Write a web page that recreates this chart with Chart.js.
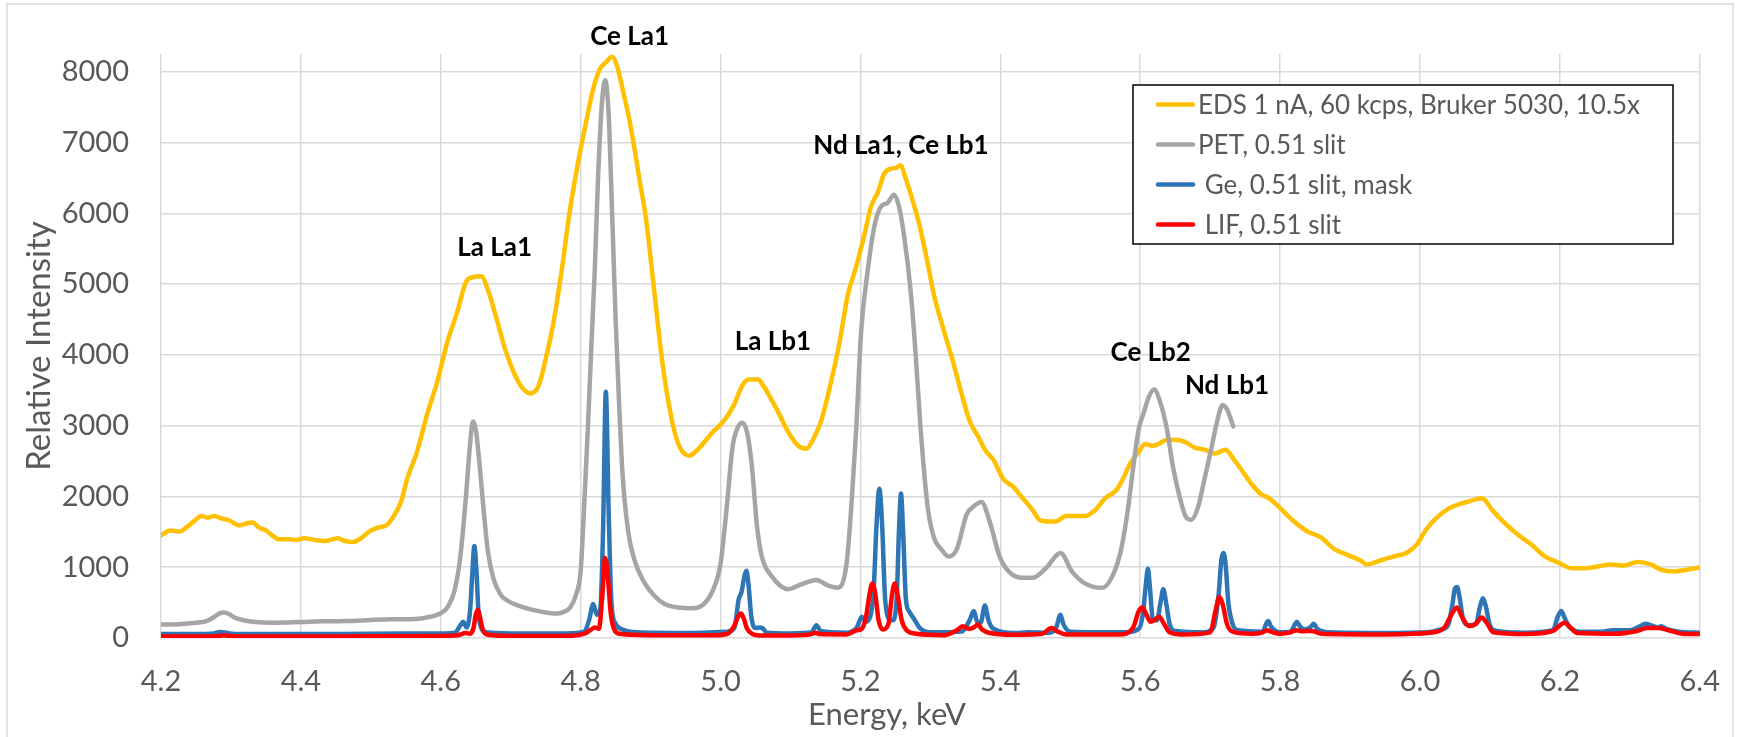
<!DOCTYPE html>
<html>
<head>
<meta charset="utf-8">
<title>EDS / WDS spectra</title>
<script src="https://cdn.jsdelivr.net/npm/chart.js@4.4.1/dist/chart.umd.min.js"></script>
<style>
  html, body { margin: 0; padding: 0; background: #fff; }
  canvas { display: block; }
</style>
</head>
<body>
<canvas id="spectrum_chartCanvas" width="1746" height="737"></canvas>
<script>
/* Series names, as in the legend */
var seriesLabels = ['EDS 1 nA, 60 kcps, Bruker 5030, 10.5x', 'PET, 0.51 slit', ' Ge, 0.51 slit, mask', ' LIF, 0.51 slit'];

/* Axis ticks */
var xTicks = [4.2, 4.4, 4.6, 4.8, 5.0, 5.2, 5.4, 5.6, 5.8, 6.0, 6.2, 6.4];
var yTicks = [0, 1000, 2000, 3000, 4000, 5000, 6000, 7000, 8000];

/* EDS spectrum (keV, relative intensity) */
var edsEnergy = [4.200,4.213,4.227,4.236,4.246,4.258,4.267,4.276,4.286,4.298,4.312,4.321,4.331,4.340,4.350,4.359,4.368,4.383,4.394,4.404,
  4.420,4.434,4.453,4.463,4.475,4.486,4.498,4.510,4.522,4.533,4.543,4.552,4.566,4.581,4.595,4.609,4.624,4.636,4.647,4.658,
  4.668,4.680,4.692,4.704,4.716,4.728,4.740,4.749,4.761,4.773,4.784,4.796,4.808,4.817,4.827,4.836,4.845,4.852,4.860,4.868,
  4.876,4.884,4.893,4.905,4.917,4.931,4.941,4.955,4.969,4.988,5.005,5.019,5.031,5.040,5.054,5.061,5.071,5.083,5.097,5.111,
  5.123,5.132,5.144,5.158,5.170,5.182,5.194,5.206,5.215,5.225,5.234,5.243,5.251,5.257,5.265,5.274,5.284,5.296,5.305,5.319,
  5.331,5.343,5.356,5.368,5.380,5.390,5.404,5.418,5.432,5.446,5.456,5.470,5.479,5.494,5.508,5.522,5.536,5.550,5.565,5.574,
  5.586,5.598,5.607,5.617,5.626,5.638,5.650,5.664,5.678,5.692,5.706,5.722,5.734,5.746,5.758,5.773,5.784,5.800,5.820,5.839,
  5.858,5.877,5.896,5.915,5.924,5.943,5.962,5.981,5.995,6.009,6.024,6.042,6.056,6.070,6.089,6.103,6.122,6.141,6.160,6.179,
  6.198,6.217,6.235,6.254,6.273,6.292,6.311,6.330,6.344,6.363,6.382,6.400];
var edsCounts = [1450,1520,1505,1560,1640,1725,1700,1725,1690,1660,1590,1615,1630,1560,1520,1450,1395,1395,1385,1410,
  1385,1370,1410,1370,1355,1410,1505,1560,1590,1725,1920,2250,2630,3180,3620,4170,4620,5030,5100,5110,
  4900,4500,4080,3760,3540,3455,3565,3900,4450,5200,6000,6700,7300,7720,8030,8130,8210,8080,7750,7400,
  6970,6480,5950,4920,3880,3050,2710,2575,2680,2900,3070,3290,3565,3650,3650,3565,3400,3180,2905,2715,
  2675,2800,3070,3620,4170,4850,5250,5710,6090,6300,6560,6630,6640,6680,6480,6200,5850,5300,4850,4350,
  3950,3510,3070,2850,2630,2520,2250,2140,1975,1810,1670,1645,1645,1725,1725,1725,1810,1975,2080,2220,
  2470,2630,2740,2715,2740,2800,2800,2770,2690,2660,2605,2660,2520,2360,2190,2030,1975,1835,1645,1505,
  1425,1260,1175,1095,1040,1095,1150,1205,1315,1535,1700,1835,1890,1930,1975,1810,1615,1450,1315,1150,
  1065,985,985,1010,1040,1025,1075,1040,965,940,965,995];

/* PET crystal scan, stops at 5.733 keV */
var petEnergy = [4.200,4.225,4.250,4.265,4.275,4.283,4.290,4.297,4.305,4.318,4.335,4.360,4.400,4.430,4.467,4.500,4.530,4.565,4.585,4.600,
  4.610,4.620,4.628,4.636,4.642,4.646,4.650,4.655,4.660,4.667,4.675,4.685,4.695,4.710,4.730,4.750,4.765,4.775,4.785,4.793,
  4.800,4.805,4.810,4.815,4.820,4.825,4.830,4.835,4.840,4.845,4.850,4.855,4.860,4.868,4.877,4.890,4.905,4.920,4.940,4.960,
  4.975,4.988,5.000,5.009,5.017,5.024,5.031,5.038,5.045,5.052,5.059,5.073,5.097,5.116,5.137,5.154,5.168,5.180,5.187,5.194,
  5.201,5.210,5.220,5.229,5.239,5.248,5.255,5.262,5.272,5.279,5.286,5.296,5.305,5.316,5.326,5.338,5.352,5.362,5.373,5.385,
  5.399,5.413,5.432,5.446,5.465,5.486,5.503,5.522,5.546,5.565,5.574,5.583,5.590,5.598,5.605,5.612,5.620,5.628,5.638,5.647,
  5.657,5.666,5.673,5.683,5.692,5.702,5.709,5.718,5.725,5.733];
var petCounts = [190,195,215,240,290,345,360,340,290,250,225,215,225,235,240,255,265,270,300,350,
  440,680,1150,2000,2750,3060,2950,2500,1950,1250,850,620,530,460,400,360,345,365,430,600,
  950,1860,2900,4060,5160,6530,7500,7880,7400,6000,4500,3300,2300,1500,1100,800,600,480,430,420,
  470,650,1050,1860,2690,2960,3040,2900,2410,1590,1150,875,690,760,820,740,710,1040,1860,2960,
  4330,5160,5820,6090,6150,6260,6100,5710,4880,4000,2960,1860,1420,1250,1150,1260,1750,1860,1920,1640,
  1150,930,850,850,985,1200,930,765,710,985,1310,1860,2410,2960,3180,3400,3510,3350,2960,2410,
  1970,1700,1670,1860,2250,2690,3020,3290,3210,2990];

/* Ge crystal with mask */
var geEnergy = [4.200,4.250,4.275,4.285,4.295,4.310,4.400,4.500,4.600,4.620,4.628,4.632,4.637,4.642,4.645,4.648,4.651,4.654,4.658,4.665,
  4.700,4.780,4.805,4.812,4.818,4.823,4.828,4.832,4.836,4.840,4.844,4.850,4.860,4.880,4.950,5.010,5.020,5.026,5.030,5.034,
  5.037,5.040,5.044,5.050,5.056,5.060,5.066,5.100,5.130,5.137,5.143,5.180,5.195,5.202,5.208,5.214,5.219,5.223,5.227,5.231,
  5.235,5.240,5.246,5.252,5.255,5.258,5.261,5.265,5.270,5.276,5.285,5.300,5.345,5.356,5.362,5.367,5.372,5.378,5.383,5.390,
  5.420,5.440,5.470,5.480,5.486,5.490,5.500,5.580,5.598,5.604,5.608,5.611,5.614,5.618,5.624,5.629,5.633,5.637,5.642,5.650,
  5.690,5.705,5.712,5.716,5.719,5.722,5.726,5.732,5.740,5.775,5.780,5.783,5.787,5.800,5.815,5.821,5.824,5.828,5.835,5.843,
  5.848,5.853,5.870,5.950,6.010,6.030,6.040,6.046,6.050,6.053,6.057,6.062,6.070,6.080,6.086,6.090,6.094,6.100,6.110,6.150,
  6.190,6.197,6.202,6.207,6.214,6.230,6.260,6.275,6.300,6.315,6.322,6.330,6.340,6.345,6.352,6.370,6.400];
var geCounts = [55,55,65,85,70,55,55,60,65,75,180,230,150,400,900,1300,950,350,140,80,
  65,65,90,250,480,330,400,1500,3480,1800,500,200,120,80,70,90,150,550,650,870,
  950,750,300,140,150,140,75,65,80,180,100,75,150,300,230,300,700,1600,2110,1600,
  600,280,250,600,1500,2040,1500,550,370,280,140,80,90,250,380,230,220,460,250,130,
  70,80,75,150,330,200,90,80,130,350,750,980,700,260,250,500,690,500,200,100,
  80,150,600,1100,1200,1050,500,200,110,90,200,240,160,80,90,190,230,170,120,150,
  200,130,80,70,80,120,180,450,700,720,550,250,180,200,450,560,450,180,100,75,
  110,300,380,280,150,90,90,110,110,170,200,180,150,165,130,90,75];

/* LIF crystal */
var lifEnergy = [4.200,4.280,4.290,4.300,4.400,4.500,4.600,4.625,4.635,4.642,4.647,4.650,4.653,4.656,4.660,4.666,4.700,4.780,4.805,4.815,
  4.820,4.826,4.831,4.835,4.839,4.843,4.848,4.856,4.900,4.990,5.010,5.020,5.025,5.029,5.033,5.038,5.045,5.060,5.100,5.130,
  5.135,5.142,5.180,5.195,5.202,5.208,5.213,5.217,5.221,5.226,5.232,5.240,5.245,5.249,5.253,5.259,5.266,5.280,5.320,5.338,
  5.346,5.355,5.362,5.368,5.374,5.385,5.420,5.460,5.473,5.482,5.495,5.570,5.590,5.598,5.603,5.608,5.615,5.620,5.627,5.634,
  5.642,5.660,5.700,5.708,5.713,5.718,5.724,5.732,5.760,5.775,5.781,5.787,5.800,5.815,5.823,5.832,5.845,5.860,5.950,6.020,
  6.035,6.045,6.053,6.060,6.070,6.080,6.088,6.095,6.105,6.150,6.190,6.200,6.207,6.214,6.225,6.280,6.310,6.325,6.340,6.355,
  6.375,6.400];
var lifCounts = [20,25,40,25,20,25,30,40,70,60,150,330,400,300,120,50,30,30,60,120,
  150,130,600,1130,850,350,120,60,40,40,60,180,300,345,280,130,60,35,35,55,
  75,55,50,110,130,300,620,770,640,250,120,200,600,770,620,250,110,60,40,110,
  165,130,150,190,120,70,45,60,140,90,50,50,150,380,430,350,230,250,300,200,
  80,50,80,400,580,470,200,90,60,80,110,90,60,80,110,95,100,60,50,80,
  150,330,430,300,170,200,290,220,80,55,100,180,215,160,70,60,100,140,140,110,
  60,55];

/* Peak names, anchored in keV / intensity units */
var peakLabels = [
  { text: 'Ce La1', energy: 4.870, counts: 8377 },
  { text: 'La La1', energy: 4.677, counts: 5396 },
  { text: 'Nd La1, Ce Lb1', energy: 5.258, counts: 6837 },
  { text: 'La Lb1', energy: 5.075, counts: 4068 },
  { text: 'Ce Lb2', energy: 5.615, counts: 3913 },
  { text: 'Nd Lb1', energy: 5.724, counts: 3447 }
];

var FONT = 'Lato';
var TEXT_GREY = '#595959';
var GRID_GREY = '#d9d9d9';

function toPoints(energy, counts) {
    var points = [];
    for (var i = 0; i < energy.length; i++) {
        points.push({ x: energy[i], y: counts[i] });
    }
    return points;
}

function makeSeries(label, colour, points, order) {
    return {
        label: label,
        data: points,
        borderColor: colour,
        backgroundColor: colour,
        borderWidth: 4.5,
        pointRadius: 0,
        fill: false,
        cubicInterpolationMode: 'monotone',
        borderJoinStyle: 'round',
        borderCapStyle: 'round',
        order: order
    };
}

/* white page and the light frame round the whole chart */
var framePlugin = {
    id: 'frame',
    beforeDraw: function(chart) {
        var ctx = chart.ctx;
        ctx.save();
        ctx.fillStyle = '#ffffff';
        ctx.fillRect(0, 0, chart.width, chart.height);
        ctx.strokeStyle = GRID_GREY;
        ctx.lineWidth = 1.5;
        ctx.strokeRect(7, 4, 1726, 745);
        ctx.restore();
    }
};

/* peak names and the x axis title (which sits left of centre) */
var textPlugin = {
    id: 'peakText',
    afterDatasetsDraw: function(chart) {
        var ctx = chart.ctx;
        var xs = chart.scales.x, ys = chart.scales.y;
        ctx.save();
        ctx.fillStyle = '#000000';
        ctx.font = 'bold 26px ' + FONT;
        ctx.textAlign = 'center';
        ctx.textBaseline = 'alphabetic';
        peakLabels.forEach(function(p) {
            ctx.fillText(p.text, xs.getPixelForValue(p.energy), ys.getPixelForValue(p.counts));
        });
        ctx.fillStyle = TEXT_GREY;
        ctx.font = '31px ' + FONT;
        ctx.fillText('Energy, keV', 887, 725);
        ctx.restore();
    }
};

/* boxed legend inside the plot, top right */
var legendBoxPlugin = {
    id: 'legendBox',
    afterDraw: function(chart) {
        var ctx = chart.ctx;
        var box = { left: 1133, top: 85, right: 1673, bottom: 244 };
        ctx.save();
        ctx.fillStyle = '#ffffff';
        ctx.fillRect(box.left, box.top, box.right - box.left, box.bottom - box.top);
        ctx.strokeStyle = '#000000';
        ctx.lineWidth = 1.5;
        ctx.strokeRect(box.left, box.top, box.right - box.left, box.bottom - box.top);
        ctx.font = '26px ' + FONT;
        ctx.textAlign = 'left';
        ctx.textBaseline = 'alphabetic';
        chart.data.datasets.forEach(function(ds, i) {
            var y = 104.5 + i * 40;
            ctx.strokeStyle = ds.borderColor;
            ctx.lineWidth = 4.5;
            ctx.lineCap = 'round';
            ctx.beginPath();
            ctx.moveTo(1158, y);
            ctx.lineTo(1193, y);
            ctx.stroke();
            ctx.fillStyle = TEXT_GREY;
            ctx.fillText(ds.label, 1198, y + 9.3);
        });
        ctx.restore();
    }
};

function drawSpectrumChart() {
    var ctx = document.getElementById('spectrum_chartCanvas').getContext('2d');
    var config = {
        type: 'line',
        data: {
            datasets: [
                makeSeries(seriesLabels[0], '#ffc000', toPoints(edsEnergy, edsCounts), 4),
                makeSeries(seriesLabels[1], '#a5a5a5', toPoints(petEnergy, petCounts), 3),
                makeSeries(seriesLabels[2], '#2e75b6', toPoints(geEnergy, geCounts), 2),
                makeSeries(seriesLabels[3], '#ff0000', toPoints(lifEnergy, lifCounts), 1)
            ]
        },
        options: {
            responsive: false,
            animation: false,
            events: [],
            layout: { padding: { top: 54, right: 33, bottom: 0, left: 0 } },
            plugins: {
                legend: { display: false },
                tooltip: { enabled: false }
            },
            scales: {
                x: {
                    type: 'linear',
                    min: 4.2,
                    max: 6.4,
                    afterBuildTicks: function(axis) {
                        axis.ticks = xTicks.map(function(v) { return { value: v }; });
                    },
                    afterFit: function(axis) { axis.height = 99; },
                    ticks: {
                        autoSkip: false,
                        maxRotation: 0,
                        padding: 26,
                        color: TEXT_GREY,
                        font: { family: FONT, size: 29 },
                        callback: function(v) { return Number(v).toFixed(1); }
                    },
                    grid: { color: GRID_GREY, lineWidth: 1.5, drawTicks: false },
                    border: { display: false }
                },
                y: {
                    min: 0,
                    max: 8250,
                    afterBuildTicks: function(axis) {
                        axis.ticks = yTicks.map(function(v) { return { value: v }; });
                    },
                    afterFit: function(axis) { axis.width = 161; },
                    ticks: {
                        padding: 32,
                        color: TEXT_GREY,
                        font: { family: FONT, size: 29 },
                        callback: function(v) { return String(v); }
                    },
                    grid: { color: GRID_GREY, lineWidth: 1.5, drawTicks: false },
                    border: { display: false },
                    title: {
                        display: true,
                        text: 'Relative Intensity',
                        color: TEXT_GREY,
                        font: { family: FONT, size: 33 },
                        padding: { top: 20, bottom: 0 }
                    }
                }
            }
        },
        plugins: [framePlugin, textPlugin, legendBoxPlugin]
    };
    var chart = new Chart(ctx, config);
}

drawSpectrumChart();
</script>
</body>
</html>
